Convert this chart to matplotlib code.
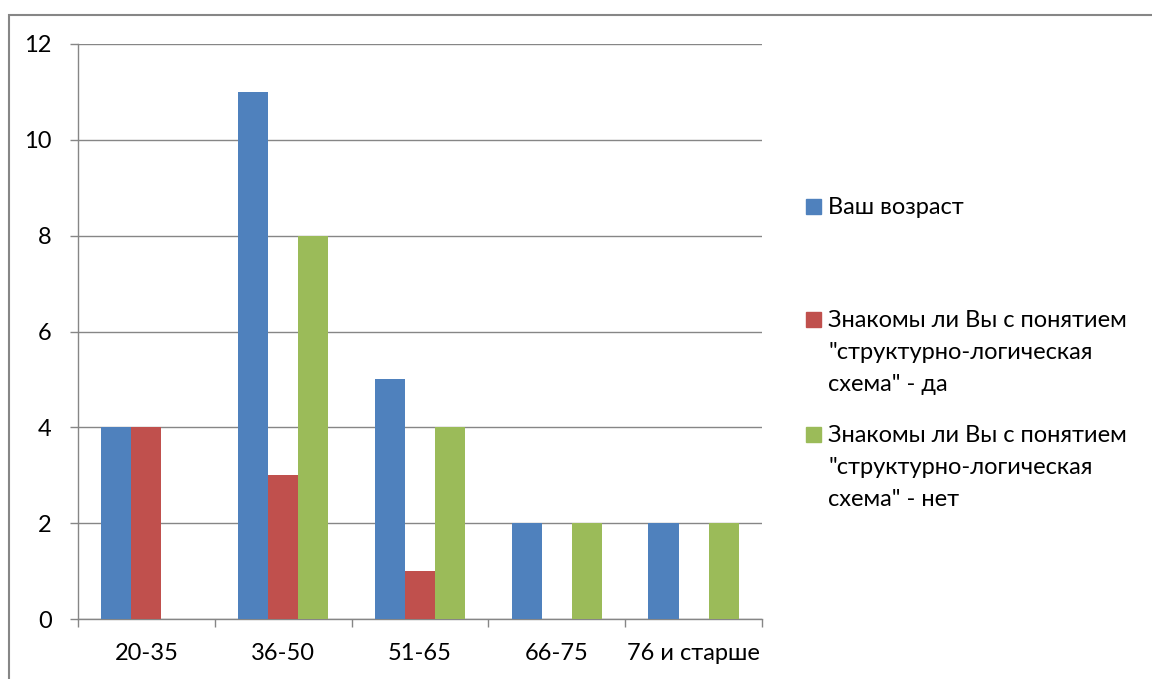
import numpy as np
import matplotlib
matplotlib.use("Agg")
import matplotlib.pyplot as plt
from matplotlib.patches import Rectangle

plt.rcParams['font.family'] = ['Lato', 'DejaVu Sans']

# survey answers by age group
age_groups = ['20-35', '36-50', '51-65', '66-75', '76 и старше']
age_counts = [4, 11, 5, 2, 2]
knows_yes = [4, 3, 1, 0, 0]
knows_no = [0, 8, 4, 2, 2]

series_labels = [
    'Ваш возраст',
    'Знакомы ли Вы с понятием\n"структурно-логическая\nсхема" - да',
    'Знакомы ли Вы с понятием\n"структурно-логическая\nсхема" - нет',
]
colors = ['#4F81BD', '#C0504D', '#9BBB59']
grid_col = '#868686'
fsize = 17

W, H = 1152, 679
fig = plt.figure(figsize=(W / 100, H / 100), dpi=100)
ax = fig.add_axes([78 / W, 1 - 619 / H, (762 - 78) / W, (619 - 44) / H])

x = np.arange(len(age_groups))
bw = 0.22
for i, vals in enumerate([age_counts, knows_yes, knows_no]):
    ax.bar(x + (i - 1) * bw, vals, width=bw, color=colors[i], zorder=3)

ax.set_xlim(-0.5, len(age_groups) - 0.5)
ax.set_ylim(0, 12)
ax.set_yticks(range(0, 13, 2))
ax.set_xticks(x)
ax.set_xticklabels(age_groups)
ax.set_xticks(np.arange(-0.5, len(age_groups)), minor=True)
ax.tick_params(axis='x', which='major', length=0, pad=17, labelsize=fsize)
ax.tick_params(axis='x', which='minor', length=6, color=grid_col, width=1)
ax.tick_params(axis='y', length=6, color=grid_col, width=1, pad=13, labelsize=fsize)
ax.yaxis.grid(True, color=grid_col, linewidth=1, zorder=0)
for s in ['top', 'right']:
    ax.spines[s].set_visible(False)
for s in ['left', 'bottom']:
    ax.spines[s].set_color(grid_col)
    ax.spines[s].set_linewidth(1)

# legend drawn by hand to get Excel-like spacing (pixel baseline of first line)
entry_base = [214, 327, 442]
line_step = 32
for lab, col, yb in zip(series_labels, colors, entry_base):
    fig.patches.append(Rectangle((806 / W, 1 - yb / H), 15 / W, 15 / H,
                                 transform=fig.transFigure, color=col))
    for k, line in enumerate(lab.split('\n')):
        fig.text(828 / W, 1 - (yb + k * line_step) / H, line, fontsize=fsize,
                 va='baseline', ha='left')

# chart area border
fig.patches.append(Rectangle((9 / W, -0.05), 1.1, 1.05 - 15 / H, transform=fig.transFigure,
                             fill=False, edgecolor=grid_col, linewidth=1.5))

fig.savefig('out.png', dpi=100, facecolor='white')
